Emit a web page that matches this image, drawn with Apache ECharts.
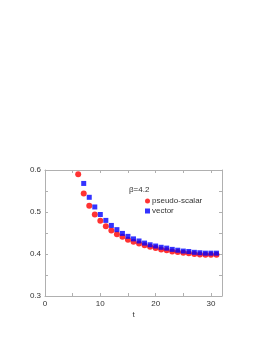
<!DOCTYPE html>
<html><head><meta charset="utf-8">
<script src="https://cdn.jsdelivr.net/npm/echarts@6/dist/echarts.min.js"></script>
<style>html,body{margin:0;padding:0;background:#fff}#c{width:267px;height:346px}</style>
</head><body><div id="c"></div>
<script>
const psT = [6,7,8,9,10,11,12,13,14,15,16,17,18,19,20,21,22,23,24,25,26,27,28,29,30,31];
const psVal = [0.590,0.544,0.515,0.494,0.479,0.466,0.456,0.447,0.441,0.434,0.429,0.425,0.421,0.417,0.414,0.411,0.409,0.406,0.405,0.403,0.402,0.400,0.399,0.398,0.398,0.398];
const vecT = [7,8,9,10,11,12,13,14,15,16,17,18,19,20,21,22,23,24,25,26,27,28,29,30,31];
const vecVal = [0.568,0.535,0.512,0.494,0.480,0.468,0.458,0.449,0.442,0.436,0.431,0.426,0.422,0.419,0.416,0.414,0.411,0.409,0.407,0.406,0.404,0.403,0.402,0.402,0.402];
const xTicks = [0,10,20,30];
const yTicks = [0.3,0.4,0.5,0.6];

const font = 'Liberation Sans, Arial, sans-serif';
const axColor = '#b0b0b0';
const chart = echarts.init(document.getElementById('c'), null, {renderer:'canvas'});
const mk = (a,b)=>a.map((t,i)=>[t,b[i]]);
function xAx(pos, extra){
  return Object.assign({type:'value', min:0, max:32, interval:5, position:pos,
    axisLine:{show:true, onZero:false, lineStyle:{color:axColor, width:1}},
    axisTick:{show:true, inside:true, length:3, lineStyle:{color:axColor}},
    splitLine:{show:false}, axisLabel:{show:false}}, extra||{});
}
function yAx(pos, extra){
  return Object.assign({type:'value', min:0.3, max:0.6, interval:0.05, position:pos,
    axisLine:{show:true, onZero:false, lineStyle:{color:axColor, width:1}},
    axisTick:{show:true, inside:true, length:3, lineStyle:{color:axColor}},
    splitLine:{show:false}, axisLabel:{show:false}}, extra||{});
}
chart.setOption({
  animation:false,
  textStyle:{fontFamily:font},
  title:{text:'β=4.2', left:124, top:181, textStyle:{fontSize:8, fontWeight:'normal', color:'#333', fontFamily:font}},
  legend:{orient:'vertical', left:145, top:197, itemGap:2, itemWidth:5, itemHeight:5, padding:0,
    textStyle:{fontSize:8, color:'#333', fontFamily:font, padding:[0,0,0,-3]},
    data:[{name:'pseudo-scalar', icon:'circle'},{name:'vector', icon:'rect'}]},
  grid:{left:45, top:170, right:45, bottom:50, containLabel:false},
  xAxis:[
    xAx('bottom', {name:'t', nameLocation:'middle', nameGap:15,
      nameTextStyle:{fontSize:8, color:'#333', fontFamily:font},
      axisLabel:{show:true, fontSize:8, color:'#333', margin:4, fontFamily:font,
        formatter: v => xTicks.some(t => Math.abs(t - v) < 1e-6) ? String(v) : ''}}),
    xAx('top')
  ],
  yAxis:[
    yAx('left', {axisLabel:{show:true, fontSize:8, color:'#333', margin:4, fontFamily:font,
        formatter: v => yTicks.some(t => Math.abs(t - v) < 1e-6) ? v.toFixed(1) : ''}}),
    yAx('right')
  ],
  series:[
    {name:'pseudo-scalar', type:'scatter', symbol:'circle', symbolSize:6, data:mk(psT,psVal),
      itemStyle:{color:'#ff0000'}},
    {name:'vector', type:'scatter', symbol:'rect', symbolSize:5, data:mk(vecT,vecVal),
      itemStyle:{color:'#0000ff'}}
  ]
});
</script></body></html>
